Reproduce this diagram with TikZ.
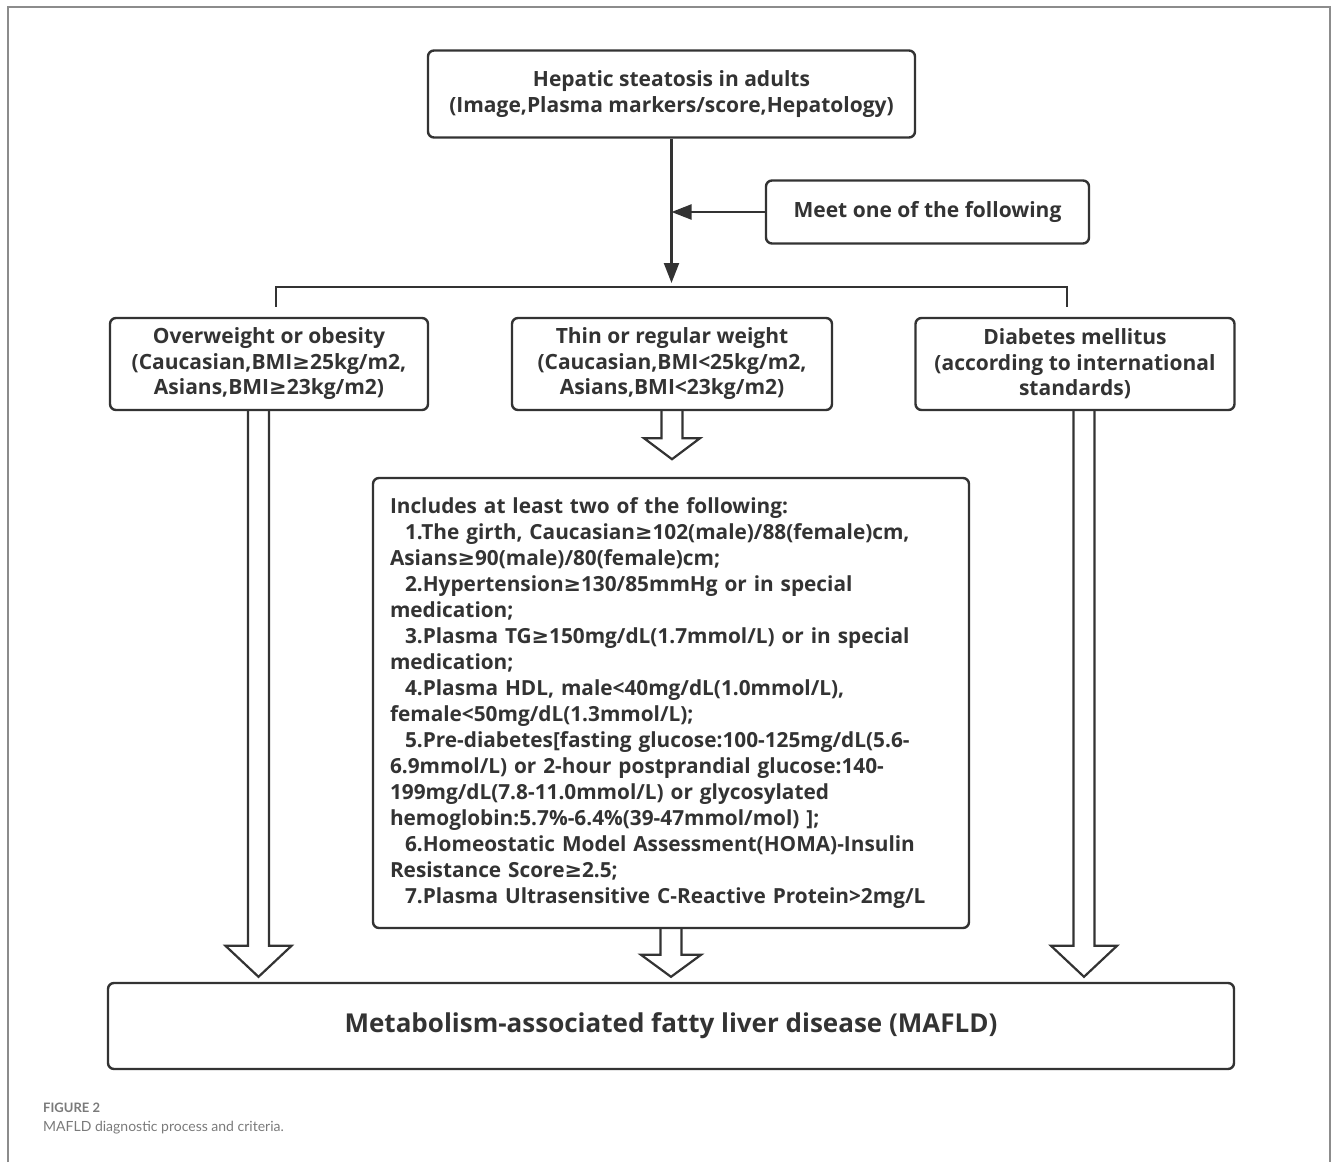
\documentclass[tikz,border=0pt]{standalone}
\usepackage{fontspec}
\setmainfont{Open Sans}
\newfontfamily\symfont{DejaVu Sans}
\newfontfamily\capfont{Lato}
\usepackage{tikz}
\usetikzlibrary{arrows.meta,positioning,calc}
\definecolor{ink}{HTML}{333333}
\definecolor{framegray}{HTML}{8C8C8C}
\definecolor{capgray}{HTML}{7A7A7A}
\newcommand{\gesign}{{\symfont\bfseries ≥}}
% hollow arrow: #1 start, #2 tip, #3 head length, #4 half head width
\newcommand{\hollowarrow}[4]{%
  \draw[fat] ($(#1)+(-10.5,0)$) -- ($(#2)+(-10.5,-#3)$) -- ($(#2)+(-#4,-#3)$)
    -- (#2) -- ($(#2)+(#4,-#3)$) -- ($(#2)+(10.5,-#3)$) -- ($(#1)+(10.5,0)$);}

\begin{document}
\setlength{\lineskiplimit}{-20pt}
\begin{tikzpicture}[
        x=1pt, y=-1pt,
        box/.style={draw=ink, line width=2.4pt, rounded corners=6pt, text=ink,
            font=\bfseries\fontsize{21}{25.5}\selectfont,
            align=center, inner sep=0pt},
        line/.style={draw=ink, line width=2.2pt},
        tip/.style={-{Triangle[length=20pt,width=15pt]}},
        fat/.style={draw=ink, line width=2.2pt, line join=miter},
        frame/.style={draw=framegray, line width=1.5pt},
    ]
    \useasboundingbox (0,0) rectangle (1333,1162);
    % frame
    \draw[frame] (8,1162) -- (8,7) -- (1330,7) -- (1330,1162);
    % boxes
    \node[box, minimum width=487pt, minimum height=87pt] (hep) at (671.5,94)
        {Hepatic steatosis in adults\\(Image,Plasma markers/score,Hepatology)};
    \node[box, minimum width=323pt, minimum height=63pt] (meet) at (927.5,212)
        {Meet one of the following};
    \node[box, minimum width=318pt, minimum height=92pt] (over) at (269,364)
        {Overweight or obesity\\(Caucasian,BMI\gesign25kg/m2,\\Asians,BMI\gesign23kg/m2)};
    \node[box, minimum width=320pt, minimum height=92pt] (thin) at (672,364)
        {Thin or regular weight\\(Caucasian,BMI<25kg/m2,\\Asians,BMI<23kg/m2)};
    \node[box, minimum width=319pt, minimum height=92pt] (diab) at (1075,364)
        {Diabetes mellitus\\(according to international\\standards)};
    \node[box, minimum width=596pt, minimum height=450pt, text width=562pt, align=left,
        font=\bfseries\fontsize{20.8}{26}\selectfont] (crit) at (671,703)
        {Includes at least two of the following:\\
        \hspace*{15pt}1.The girth, Caucasian\gesign102(male)/88(female)cm,\\
        Asians\gesign90(male)/80(female)cm;\\
        \hspace*{15pt}2.Hypertension\gesign130/85mmHg or in special\\
        medication;\\
        \hspace*{15pt}3.Plasma TG\gesign150mg/dL(1.7mmol/L) or in special\\
        medication;\\
        \hspace*{15pt}4.Plasma HDL, male<40mg/dL(1.0mmol/L),\\
        female<50mg/dL(1.3mmol/L);\\
        \hspace*{15pt}5.Pre-diabetes[fasting glucose:100-125mg/dL(5.6-\\
        6.9mmol/L) or 2-hour postprandial glucose:140-\\
        199mg/dL(7.8-11.0mmol/L) or glycosylated\\
        hemoglobin:5.7\%-6.4\%(39-47mmol/mol) ];\\
        \hspace*{15pt}6.Homeostatic Model Assessment(HOMA)-Insulin\\
        Resistance Score\gesign2.5;\\
        \hspace*{15pt}7.Plasma Ultrasensitive C-Reactive Protein>2mg/L};
    \node[box, minimum width=1126pt, minimum height=86pt,
        font=\bfseries\fontsize{26}{30}\selectfont] (mafld) at (671,1026)
        {Metabolism-associated fatty liver disease (MAFLD)};
    % caption
    \node[anchor=west, inner sep=0pt, text=capgray, font=\capfont\bfseries\fontsize{13}{15}\selectfont]
        (figno) at (43,1108) {FIGURE 2};
    \node[anchor=west, inner sep=0pt, text=capgray, font=\capfont\fontsize{14}{17}\selectfont]
        (figcap) at (43,1128) {MAFLD diagnostic process and criteria.};
    % split into three branches
    \coordinate (barL) at (276,287);
    \coordinate (barR) at (1067,287);
    \draw[line, tip] (hep.south) -- ($(hep.south |- barL)+(0,-4)$);
    \draw[line, tip] (meet.west) -- (meet.west -| hep.south);
    \draw[line] ($(barL |- over.north)+(0,-10)$) -- (barL) -- (barR)
        -- ($(barR |- diab.north)+(0,-10)$);
    % hollow arrows
    \coordinate (a1) at ($(over.south)+(-10.5,0)$);
    \coordinate (a2) at (thin.south);
    \coordinate (a3) at ($(diab.south)+(9,0)$);
    \coordinate (a4) at (crit.south);
    \hollowarrow{a1}{$(a1 |- mafld.north)+(0,-5)$}{31}{33}
    \hollowarrow{a2}{$(a2)+(0,48)$}{21}{28}
    \hollowarrow{a3}{$(a3 |- mafld.north)+(0,-5)$}{31}{33}
    \hollowarrow{a4}{$(a4 |- mafld.north)+(0,-5)$}{22}{30}
\end{tikzpicture}
\end{document}
